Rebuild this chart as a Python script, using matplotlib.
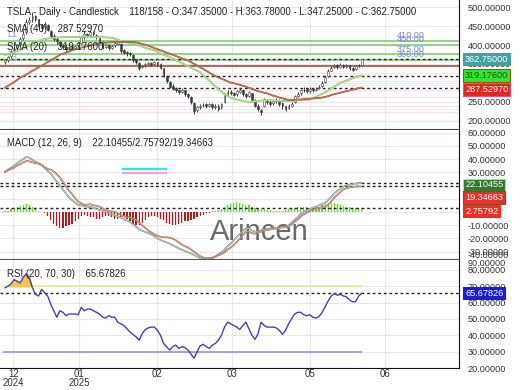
import numpy as np
import matplotlib.pyplot as plt
import matplotlib.patheffects as pe

plt.rcParams['font.family'] = ['Liberation Sans', 'DejaVu Sans']

# ---- TSLA daily candles (118 bars shown) ----
opens = [355, 360, 370, 386, 392, 402, 418, 435, 462, 468,
         476, 468, 452, 448, 452, 438, 424, 416, 408, 400,
         396, 390, 396, 393, 400, 406, 420, 430, 426, 434,
         426, 418, 408, 396, 400, 393, 400, 404, 402, 386,
         382, 379, 374, 362, 352, 342, 346, 350, 353, 349,
         354, 350, 338, 318, 302, 292, 286, 280, 277, 280,
         270, 262, 248, 228, 236, 241, 243, 240, 243, 236,
         240, 236, 250, 268, 276, 272, 270, 277, 280, 270,
         266, 272, 252, 238, 228, 240, 254, 250, 246, 252,
         254, 246, 238, 234, 240, 250, 266, 272, 280, 283,
         278, 284, 280, 286, 292, 302, 318, 332, 342, 346,
         342, 347, 342, 346, 338, 336, 346, 347.35]
highs = [362, 370, 388, 395, 404, 420, 440, 470, 475, 488,
         480, 470, 455, 460, 456, 440, 428, 420, 410, 404,
         400, 398, 400, 401, 408, 425, 436, 433, 440, 436,
         430, 420, 410, 404, 402, 401, 408, 414, 406, 390,
         385, 382, 376, 364, 356, 348, 352, 356, 356, 358,
         356, 352, 340, 322, 306, 296, 290, 284, 286, 282,
         274, 264, 250, 238, 244, 246, 246, 248, 246, 244,
         244, 248, 274, 280, 280, 276, 282, 286, 284, 274,
         278, 274, 256, 244, 232, 260, 258, 254, 256, 260,
         258, 250, 240, 244, 250, 268, 276, 284, 288, 286,
         288, 286, 290, 294, 304, 320, 336, 344, 350, 350,
         352, 350, 350, 348, 342, 348, 350, 363.78]
lows = [350, 356, 366, 382, 388, 398, 414, 430, 455, 462,
        464, 445, 438, 442, 436, 420, 410, 404, 396, 390,
        385, 386, 388, 390, 396, 402, 416, 420, 422, 424,
        416, 405, 390, 392, 388, 390, 396, 400, 380, 375,
        372, 370, 355, 350, 335, 338, 342, 346, 344, 346,
        345, 336, 316, 300, 286, 280, 276, 270, 272, 266,
        260, 245, 218, 224, 232, 236, 234, 236, 230, 232,
        226, 232, 248, 264, 268, 264, 266, 274, 266, 260,
        262, 250, 236, 225, 214, 236, 244, 240, 242, 248,
        240, 232, 225, 230, 236, 248, 262, 268, 276, 274,
        274, 276, 278, 284, 290, 300, 315, 330, 338, 336,
        340, 338, 340, 334, 330, 334, 342, 347.25]
closes = [360, 368, 385, 390, 400, 415, 430, 460, 465, 478,
          470, 450, 445, 455, 440, 425, 415, 410, 400, 395,
          390, 395, 392, 398, 405, 420, 430, 425, 435, 428,
          420, 410, 395, 400, 392, 398, 405, 410, 385, 380,
          378, 375, 360, 355, 340, 345, 350, 352, 348, 355,
          350, 340, 320, 305, 290, 285, 280, 275, 282, 270,
          265, 250, 225, 235, 240, 242, 238, 245, 235, 240,
          232, 245, 270, 275, 272, 268, 278, 282, 270, 265,
          275, 255, 240, 230, 222, 255, 250, 245, 252, 255,
          245, 238, 232, 240, 245, 265, 270, 280, 282, 278,
          283, 281, 285, 290, 300, 315, 330, 340, 345, 343,
          348, 342, 347, 338, 335, 345, 347, 362.75]

sma20 = [374, 376, 378, 381, 384, 387, 391, 395, 399, 403,
         407, 411, 414, 416, 417, 418, 419, 420, 420, 421,
         421, 421, 421, 421, 421, 422, 422, 422, 422, 421,
         421, 421, 421, 420, 420, 419, 417, 414, 411, 409,
         407, 406, 405, 402, 399, 396, 393, 390, 388, 386,
         382, 378, 374, 371, 369, 364, 360, 356, 352, 348,
         344, 340, 336, 332, 328, 320, 313, 306, 298, 291,
         283, 277, 270, 265, 261, 258, 256, 254, 252, 251,
         250, 250, 251, 252, 253, 254, 254, 254, 253, 253,
         252, 252, 252, 252, 253, 253, 254, 254, 255, 255,
         256, 259, 263, 267, 271, 275, 280, 285, 290, 295,
         300, 303, 306, 309, 312, 315, 317, 319.176]
sma40 = [287, 292, 297, 302, 308, 313, 318, 322, 327, 332,
         336, 341, 345, 350, 355, 359, 364, 369, 374, 377,
         380, 383, 386, 389, 391, 393, 395, 397, 399, 401,
         403, 405, 406, 406, 407, 407, 408, 408, 408, 408,
         408, 408, 408, 407, 405, 403, 401, 398, 395, 392,
         389, 386, 383, 380, 377, 374, 371, 368, 365, 362,
         359, 355, 350, 346, 341, 337, 332, 327, 322, 318,
         314, 311, 308, 304, 301, 299, 297, 295, 292, 290,
         287, 284, 281, 278, 276, 274, 272, 269, 266, 264,
         261, 259, 257, 255, 255, 255, 256, 256, 257, 258,
         258, 259, 259, 260, 261, 263, 265, 268, 270, 272,
         274, 276, 278, 280, 282, 284, 286, 287.5297]

# ---- MACD (12, 26, 9) ----
macd_line = [30.5, 32, 33.5, 35, 37, 38.5, 40, 41.5, 41, 39.5,
             38, 37, 35.6, 33.5, 31, 29, 26, 23, 20, 17,
             14, 11, 9, 7, 5.3, 5, 4.5, 4, 3.8, 3,
             2.2, 1.5, 0.8, 0, -1, -1.6, -2.5, -3.4, -4.3, -5.4,
             -6.5, -7.6, -9.4, -11.2, -13, -14.2, -15.1, -16, -17, -18.5,
             -20, -21.3, -22.2, -23.1, -24, -25.2, -26.4, -27.6, -28.6, -29.5,
             -30.4, -31.4, -32.6, -33.8, -35, -35.5, -35.5, -35.2, -34.5, -33.5,
             -32, -30.5, -28.5, -26, -24, -21.5, -19, -16.7, -14.5, -12.5,
             -12.5, -14, -15, -14.5, -13.8, -13.2, -12.8, -12.5, -12.2, -12,
             -11.6, -11.2, -10.9, -10.2, -8, -6, -4, -1.5, 0.3, 1.2,
             2.2, 3.2, 4, 5, 6, 6.8, 9, 11.5, 14, 16,
             17.5, 19.2, 20, 20.6, 21.1, 21.5, 21.8, 22.10455]
signal_line = [30.2, 31.5, 32.5, 33.5, 35.2, 36.2, 37.5, 38.5, 38.3, 37.5,
               37, 36.5, 35.6, 34, 32.5, 32, 30.5, 28.5, 26, 23,
               19.5, 16, 13.5, 10.5, 7.8, 6.5, 5.5, 5.5, 5.8, 5,
               4.7, 4, 2.8, 1.5, 0.5, 0.4, 0, -0.9, -2.3, -3.4,
               -4, -4.1, -4.9, -6.2, -8, -10.2, -12.1, -14, -15.5, -17,
               -18, -18.8, -19.2, -19.1, -19.5, -20.2, -21.4, -23.1, -24.6, -26,
               -26.9, -28.4, -30.1, -31.8, -33.5, -34.5, -35, -35, -34.8, -34,
               -32.8, -31.8, -30.5, -28.5, -27, -25, -22.8, -20.2, -17.5, -15,
               -15, -16, -16.5, -15.5, -14.8, -14.2, -13.6, -13.3, -12.7, -12.5,
               -12.1, -11.7, -11.6, -11.2, -9.3, -7.5, -5.8, -3.5, -1.7, -0.6,
               0.7, 1.7, 2.3, 3, 3.5, 3.8, 5.5, 8, 10.8, 13,
               15, 17, 18, 18.6, 19, 19.2, 19.3, 19.34663]
macd_hist = [0.5, 1, 2, 3, 3.5, 4.5, 5, 6, 5.5, 4,
             2, 1, 0, -1, -3, -6, -9, -11, -12, -12,
             -11, -10, -9, -7, -5, -3, -2, -3, -4, -4,
             -5, -5, -4, -3, -3, -4, -5, -5, -4, -4,
             -5, -7, -9, -10, -10, -8, -6, -4, -3, -3,
             -4, -5, -6, -8, -9, -10, -10, -9, -8, -7,
             -7, -6, -5, -4, -3, -2, -1, -0.5, 0.5, 1,
             1.5, 2.5, 4, 5, 6, 7, 7.5, 7, 6, 5,
             5, 4, 3, 2, 2, 2, 1.5, 1.5, 1, 1,
             1, 1, 1.5, 2, 2.5, 3, 3.5, 4, 4, 3.5,
             3, 3, 3.5, 4, 5, 6, 7, 7, 6.5, 6,
             5, 4.5, 4, 3.5, 3, 3, 2.8, 2.75792]

# ---- RSI (20, 70, 30) ----
rsi = [69, 70, 71.5, 74, 73, 72, 75.5, 77.5, 75, 69,
       65, 64, 68, 66, 64, 59, 55, 51, 55, 54,
       52, 53, 53, 53, 52.5, 57, 55, 56, 56, 55,
       54, 53, 51, 50.5, 52, 51, 51, 48, 47, 46,
       44, 42, 40.5, 39, 37, 41, 43.5, 44.5, 45, 45,
       43, 40, 35, 33, 31, 33, 34, 32, 33, 32.5,
       31, 28.5, 26, 30, 33.5, 34.5, 33, 32, 34, 35,
       37, 40, 45, 48, 47, 46, 45, 43.5, 46, 48,
       44, 40, 37.5, 41, 48, 46, 45, 45, 45, 44.5,
       43, 40.5, 43, 47, 50, 53, 54, 54, 52.5, 52,
       52.5, 51, 50.5, 51.5, 54, 57.5, 61, 64, 65.5, 64.5,
       65, 64, 63.5, 61.5, 60.5, 60.5, 64, 65.67826]

levels = [410, 400, 375, 360]
support = 345
month_pos = [2.7, 24.3, 49.8, 74.5, 100, 124.6]
month_labels = ['12\n2024', '01\n2025', '02', '03', '05', '06']

x = np.arange(len(closes))
o = np.array(opens); h = np.array(highs); l = np.array(lows); c = np.array(closes)
hist = np.array(macd_hist)
rsi = np.array(rsi)

W, H = 520, 390
fig = plt.figure(figsize=(5.2, 3.9), dpi=100)
right = 459 / W
ax1 = fig.add_axes([0, 1 - 129 / H, right, 129 / H])
ax2 = fig.add_axes([0, 1 - 259 / H, right, 129 / H])
ax3 = fig.add_axes([0, 1 - 368 / H, right, 108 / H])

tick_fs = 6.6
for ax in (ax1, ax2, ax3):
    ax.set_xlim(-1.64, 148.9)
    ax.yaxis.tick_right()
    ax.tick_params(axis='y', length=0, pad=6, labelsize=tick_fs, labelcolor='#333333')
    ax.tick_params(axis='x', length=0)
    ax.set_xticks(month_pos)
    ax.set_xticklabels([])
    ax.grid(True, color='#e8e8e8', lw=0.8)
    ax.set_axisbelow(True)
    for s in ('top', 'left'):
        ax.spines[s].set_visible(False)
    ax.spines['right'].set_color('#111111')
    ax.yaxis.set_major_formatter(plt.FormatStrFormatter('%.5f'))

ax1.spines['bottom'].set_color('#5a3040')
ax2.spines['bottom'].set_color('#555555')
ax3.spines['bottom'].set_color('#111111')

# ---------- price panel ----------
ax1.set_ylim(178, 519)
ax1.set_yticks(np.arange(200, 501, 50))
for v in [325, 305, 282, 262, 240, 222, 200]:
    ax1.axhline(v, color='#fbe1ec', lw=0.9, zorder=0)
for v in [295, 250, 230]:
    ax1.axhline(v, color='#dff3f8', lw=0.9, zorder=0)

for lv in levels:
    ax1.axhline(lv, color='#78c96a', lw=1.1, zorder=2)
ax1.axhline(support, color='#a33a2c', lw=1.1, zorder=2)
for v in [closes[-1], sma20[-1], sma40[-1]]:
    ax1.axhline(v, color='#222222', lw=1.0, ls=(0, (2, 2)), zorder=3)
for lv in levels:
    ax1.text(137.7, lv + 2, '%.2f' % lv, color='#7385d4', fontsize=6.6,
             ha='right', va='bottom', zorder=4)

up = c >= o
ax1.vlines(x, l, h, color='#3c3c3c', lw=0.7, zorder=4)
ax1.bar(x, np.maximum(np.abs(c - o), 1.0), bottom=np.minimum(o, c), width=0.6,
        color=np.where(up, 'white', '#3c3c3c'), edgecolor='#3c3c3c', lw=0.4, zorder=5)

ax1.plot(x, sma20, color='#c8e6a4', lw=0.5, zorder=6,
         path_effects=[pe.Stroke(linewidth=1.4, foreground='#90c070'), pe.Normal()])
ax1.plot(x, sma40, color='#c98a70', lw=0.5, zorder=6,
         path_effects=[pe.Stroke(linewidth=1.3, foreground='#9a4e38'), pe.Normal()])

ax1.text(0.016, 0.907, 'TSLA - Daily - Candlestick    118/158 - O:347.35000 - H:363.78000 - '
         'L:347.25000 - C:362.75000', transform=ax1.transAxes, fontsize=6.9,
         color='#222222', va='center', zorder=8)
ax1.text(0.016, 0.775, 'SMA (40)    287.52970', transform=ax1.transAxes, fontsize=6.9,
         color='#222222', va='center', zorder=8)
ax1.text(0.016, 0.636, 'SMA (20)    319.17600', transform=ax1.transAxes, fontsize=6.9,
         color='#222222', va='center', zorder=8)
ax1.text(0.015, 0.736, 'L1', transform=ax1.transAxes, fontsize=6.5, color='#8a9be0', va='center')
ax1.text(0.015, 0.60, 'L2', transform=ax1.transAxes, fontsize=6.5, color='#f2a0c8', va='center')
ax1.text(0.015, 0.555, 'L3', transform=ax1.transAxes, fontsize=6.5, color='#8a9be0', va='center')


def value_box(ax, val, txt, face, fg='white', edge=None, dy=0):
    ax.annotate(txt, xy=(1.0, val), xycoords=('axes fraction', 'data'),
                xytext=(6, dy), textcoords='offset pixels', ha='left', va='center',
                fontsize=tick_fs, color=fg, zorder=20, annotation_clip=False,
                bbox=dict(boxstyle='square,pad=0.18', fc=face,
                          ec=edge if edge else face, lw=0.8))


value_box(ax1, closes[-1], '362.75000', '#3fa3a3')
value_box(ax1, sma20[-1], '319.17600', '#2ee82e', fg='#1c4d1c', edge='#8b5a14')
value_box(ax1, sma40[-1], '287.52970', '#e0261e', edge='#e2557a', dy=-2)

# ---------- MACD panel ----------
ax2.set_ylim(-35.6, 62)
ax2.set_yticks(np.arange(-30, 61, 10))
hcol = np.where(hist >= 0, '#72d43c', '#a8201a')
halo = np.where(hist >= 0, '#d6f6c4', '#f9d2dd')
ax2.bar(x, hist, width=0.8, color=halo, zorder=2)
ax2.bar(x, hist, width=0.4, color=hcol, zorder=3)
ax2.hlines([32.6, 29.5], 38.4, 53, colors=['#38e0f0', '#f7a0dc'], lw=1.6, zorder=2)
ax2.text(0.565, 0.21, 'Arincen', transform=ax2.transAxes, fontsize=21,
         color='#5a5a5a', ha='center', va='center', alpha=0.9, zorder=1)
for v in [macd_line[-1], signal_line[-1], macd_hist[-1]]:
    ax2.axhline(v, color='#222222', lw=1.0, ls=(0, (2, 2)), zorder=4)
ax2.plot(x, macd_line, color='#e9f0ea', lw=0.35, zorder=6,
         path_effects=[pe.Stroke(linewidth=1.2, foreground='#6f8a78'), pe.Normal()])
ax2.plot(x, signal_line, color='#f1e2da', lw=0.35, zorder=6,
         path_effects=[pe.Stroke(linewidth=1.2, foreground='#9a5a40'), pe.Normal()])
ax2.text(0.016, 0.899, 'MACD (12, 26, 9)    22.10455/2.75792/19.34663',
         transform=ax2.transAxes, fontsize=6.9, color='#222222', va='center')
value_box(ax2, macd_line[-1], '22.10455', '#2d7a30', edge='#9be59b', dy=-2)
value_box(ax2, signal_line[-1], '19.34663', '#e8302a', edge='#8b4a1a', dy=-11)
value_box(ax2, macd_hist[-1], '2.75792', '#e8302a', dy=-3)

# ---------- RSI panel ----------
ax3.set_ylim(20.2, 86)
ax3.set_yticks(np.arange(20, 81, 10))
ax3.hlines(70, x[0] - 0.6, x[-1], color='#e6e6a2', lw=1.2, zorder=2)
ax3.hlines(30, x[0] - 0.6, x[-1], color='#9d8fe3', lw=1.2, zorder=2)
ax3.fill_between(x, rsi, 70, where=rsi > 70, interpolate=True, color='#f2c64e', zorder=3)
ax3.axhline(rsi[-1], color='#222222', lw=1.0, ls=(0, (2, 2)), zorder=4)
ax3.plot(x, rsi, color='#4b3fa6', lw=1.0, zorder=5)
ax3.text(0.016, 0.87, 'RSI (20, 70, 30)    65.67826', transform=ax3.transAxes,
         fontsize=6.9, color='#222222', va='center', zorder=8)
value_box(ax3, rsi[-1], '65.67826', '#1c1cd6')
ax3.set_xticklabels(month_labels, fontsize=7, color='#333333', linespacing=0.85)
ax3.tick_params(axis='x', pad=1)

# overlapping stray axis labels at the panel joins
fig.text(468 / W, 1 - 256 / H, '-40.00000', fontsize=tick_fs, color='#333333', va='center')
fig.text(468 / W, 1 - 263 / H, '90.00000', fontsize=tick_fs, color='#333333', va='center')

fig.savefig('out.png', dpi=100)
